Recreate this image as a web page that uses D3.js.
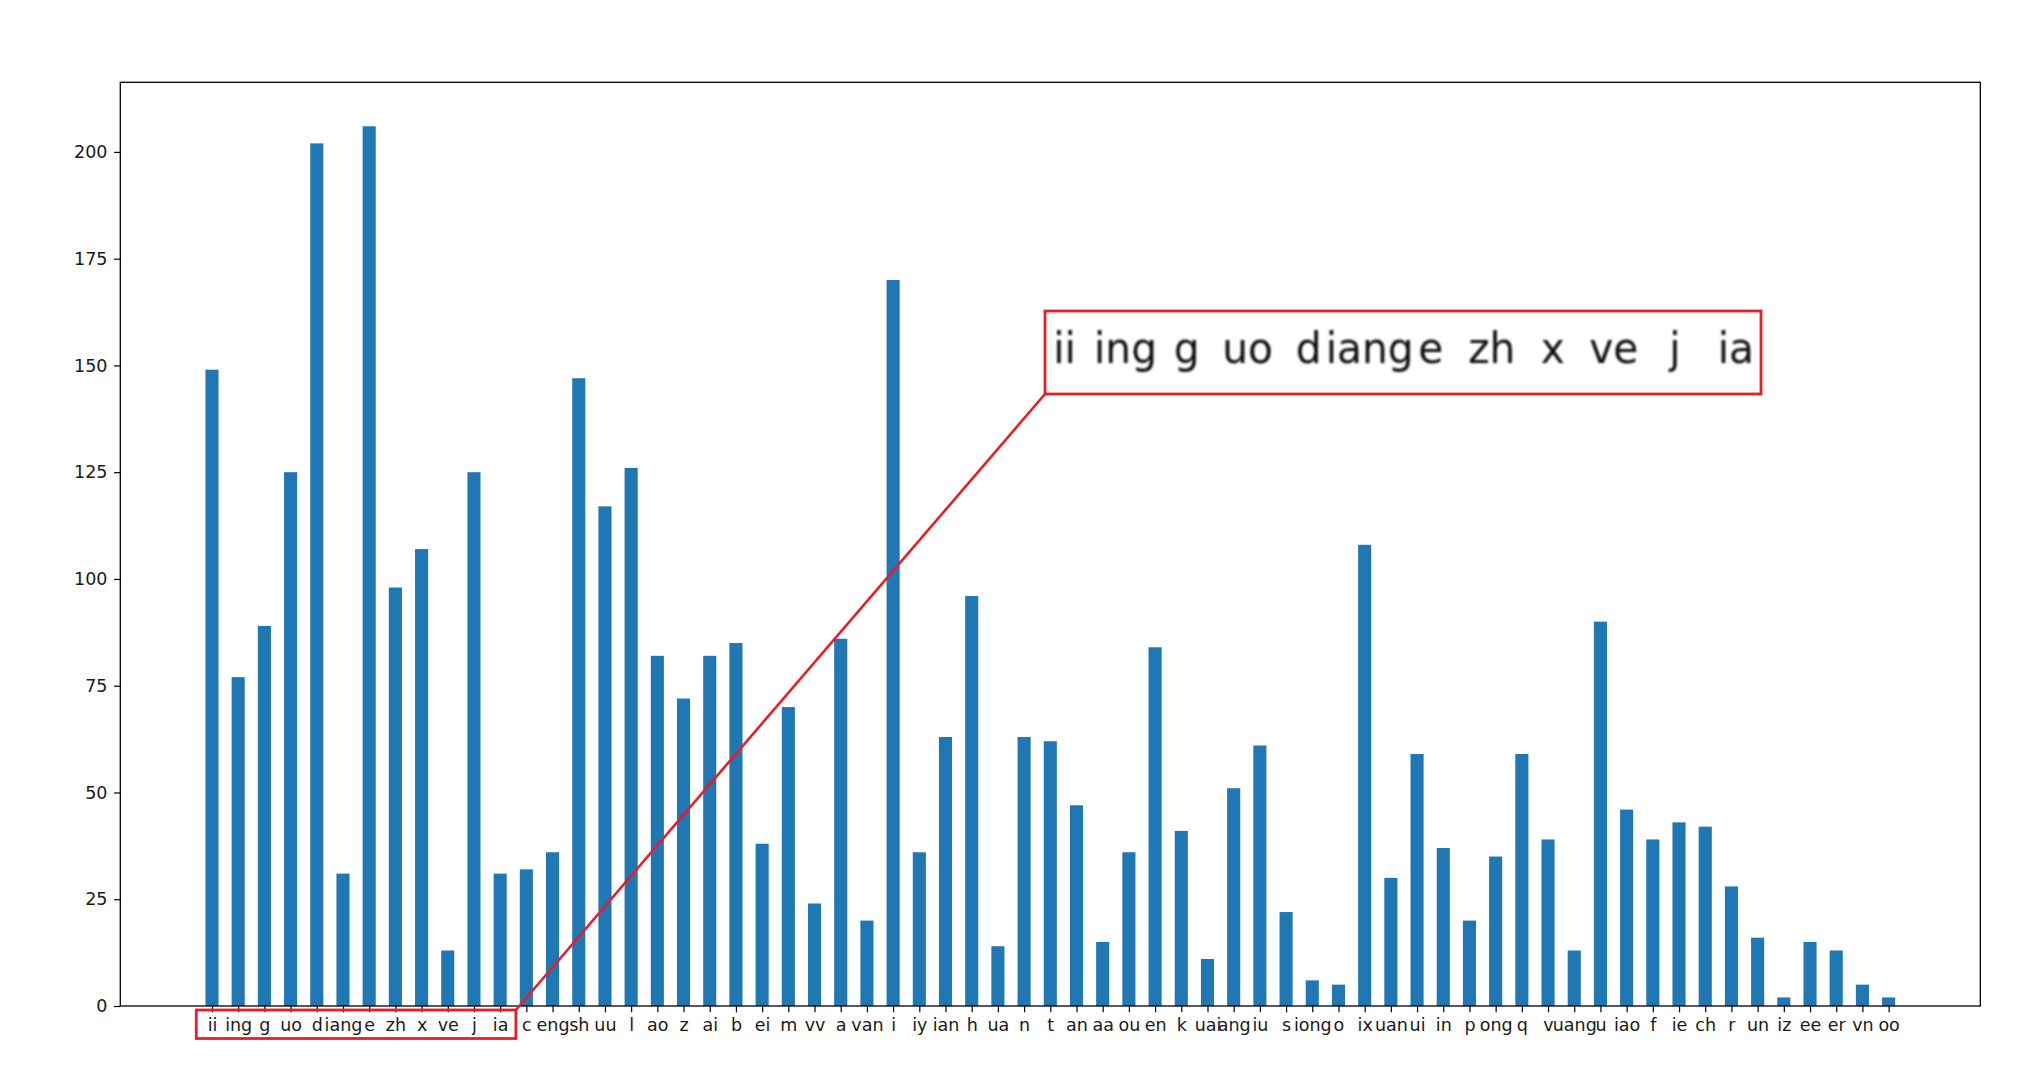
<!DOCTYPE html>
<html>
<head>
<meta charset="utf-8">
<script src="https://cdn.jsdelivr.net/npm/d3@7"></script>
<style>
  body { margin: 0; background: #fff; }
  text { font-family: "DejaVu Sans", sans-serif; }
</style>
</head>
<body>
<div id="chart"></div>
<script>
const labels = ["ii", "ing", "g", "uo", "d", "iang", "e", "zh", "x", "ve", "j", "ia",
  "c", "eng", "sh", "uu", "l", "ao", "z", "ai", "b", "ei", "m", "vv", "a", "van", "i",
  "iy", "ian", "h", "ua", "n", "t", "an", "aa", "ou", "en", "k", "uai", "ang", "iu",
  "s", "iong", "o", "ix", "uan", "ui", "in", "p", "ong", "q", "v", "uang", "u", "iao",
  "f", "ie", "ch", "r", "un", "iz", "ee", "er", "vn", "oo"];
const counts = [149, 77, 89, 125, 202, 31, 206, 98, 107, 13, 125, 31,
  32, 36, 147, 117, 126, 82, 72, 82, 85, 38, 70, 24, 86, 20, 170,
  36, 63, 96, 14, 63, 62, 47, 15, 36, 84, 41, 11, 51, 61,
  22, 6, 5, 108, 30, 59, 37, 20, 35, 59, 39, 13, 90, 46,
  39, 43, 42, 28, 16, 2, 15, 13, 5, 2];
const yTicks = [0, 25, 50, 75, 100, 125, 150, 175, 200];
const zoomCount = 12; // labels shown in the magnified box

const W = 2034, H = 1074;
const margin = { top: 82.3, right: W - 1980.3, bottom: H - 1006, left: 120.3 };
const width = W - margin.left - margin.right;
const height = H - margin.top - margin.bottom;
const red = "#ec1c24";

const svg = d3.select("#chart").append("svg")
  .attr("width", W).attr("height", H);

const g = svg.append("g")
  .attr("transform", `translate(${margin.left},${margin.top})`);

const x = d3.scaleLinear().domain([-3.5, 67.5]).range([0, width]);
const y = d3.scaleLinear().domain([0, d3.max(counts) * 1.05]).range([height, 0]);

// bars
g.append("g").selectAll("rect")
  .data(counts)
  .enter()
  .append("rect")
  .attr("x", (d, i) => x(i - 0.25))
  .attr("width", x(0.5) - x(0))
  .attr("y", (d) => y(d))
  .attr("height", (d) => y(0) - y(d))
  .attr("fill", "#1f77b4");

// x axis
const xAxis = g.append("g")
  .attr("transform", `translate(0,${height})`)
  .call(d3.axisBottom(x).tickValues(d3.range(labels.length))
    .tickFormat((i) => labels[i]).tickSize(6.3).tickPadding(6.5));
xAxis.select(".domain").remove();
xAxis.selectAll("line").attr("stroke", "#000").attr("stroke-width", 1.2);
xAxis.selectAll("text").attr("font-size", 17.5).attr("fill", "#1a1a1a")
  .attr("font-family", "DejaVu Sans");

// y axis
const yAxis = g.append("g")
  .call(d3.axisLeft(y).tickValues(yTicks).tickSize(6.3).tickPadding(6.5));
yAxis.select(".domain").remove();
yAxis.selectAll("line").attr("stroke", "#000").attr("stroke-width", 1.2);
yAxis.selectAll("text").attr("font-size", 17.5).attr("fill", "#1a1a1a")
  .attr("font-family", "DejaVu Sans");

// frame
g.append("rect")
  .attr("width", width).attr("height", height)
  .attr("fill", "none").attr("stroke", "#000").attr("stroke-width", 1.3);

// small box round the first labels
const sx0 = margin.left + x(-0.6), sx1 = margin.left + x(zoomCount - 0.4);
const sy0 = 1010, sy1 = 1038.5;
svg.append("rect")
  .attr("x", sx0).attr("y", sy0).attr("width", sx1 - sx0).attr("height", sy1 - sy0)
  .attr("fill", "none").attr("stroke", red).attr("stroke-width", 2.8);

// magnified box
const box = { x: 1045, y: 311, w: 716, h: 83 };
svg.append("line")
  .attr("x1", sx1).attr("y1", sy0).attr("x2", box.x).attr("y2", box.y + box.h)
  .attr("stroke", red).attr("stroke-width", 2.6);

svg.append("rect")
  .attr("x", box.x).attr("y", box.y).attr("width", box.w).attr("height", box.h)
  .attr("fill", "#fff").attr("stroke", "none");

const defs = svg.append("defs");
defs.append("clipPath").attr("id", "zoomclip")
  .append("rect").attr("x", box.x).attr("y", box.y).attr("width", box.w).attr("height", box.h);
defs.append("filter").attr("id", "soft")
  .append("feGaussianBlur").attr("stdDeviation", 0.45);

const baseX = margin.left + x(0);
const zoom = svg.append("g").attr("clip-path", "url(#zoomclip)")
  .append("g")
  .attr("filter", "url(#soft)")
  .attr("transform", `translate(1064.5,330) scale(2.33,2.42) translate(${-baseX},-1016)`);
zoom.selectAll("text")
  .data(labels.slice(0, zoomCount))
  .enter()
  .append("text")
  .attr("x", (d, i) => margin.left + x(i))
  .attr("y", 1029.5)
  .attr("text-anchor", "middle")
  .attr("font-size", 17.5)
  .attr("fill", "#111")
  .text((d) => d);

svg.append("rect")
  .attr("x", box.x).attr("y", box.y).attr("width", box.w).attr("height", box.h)
  .attr("fill", "none").attr("stroke", red).attr("stroke-width", 2.8);
</script>
</body>
</html>
